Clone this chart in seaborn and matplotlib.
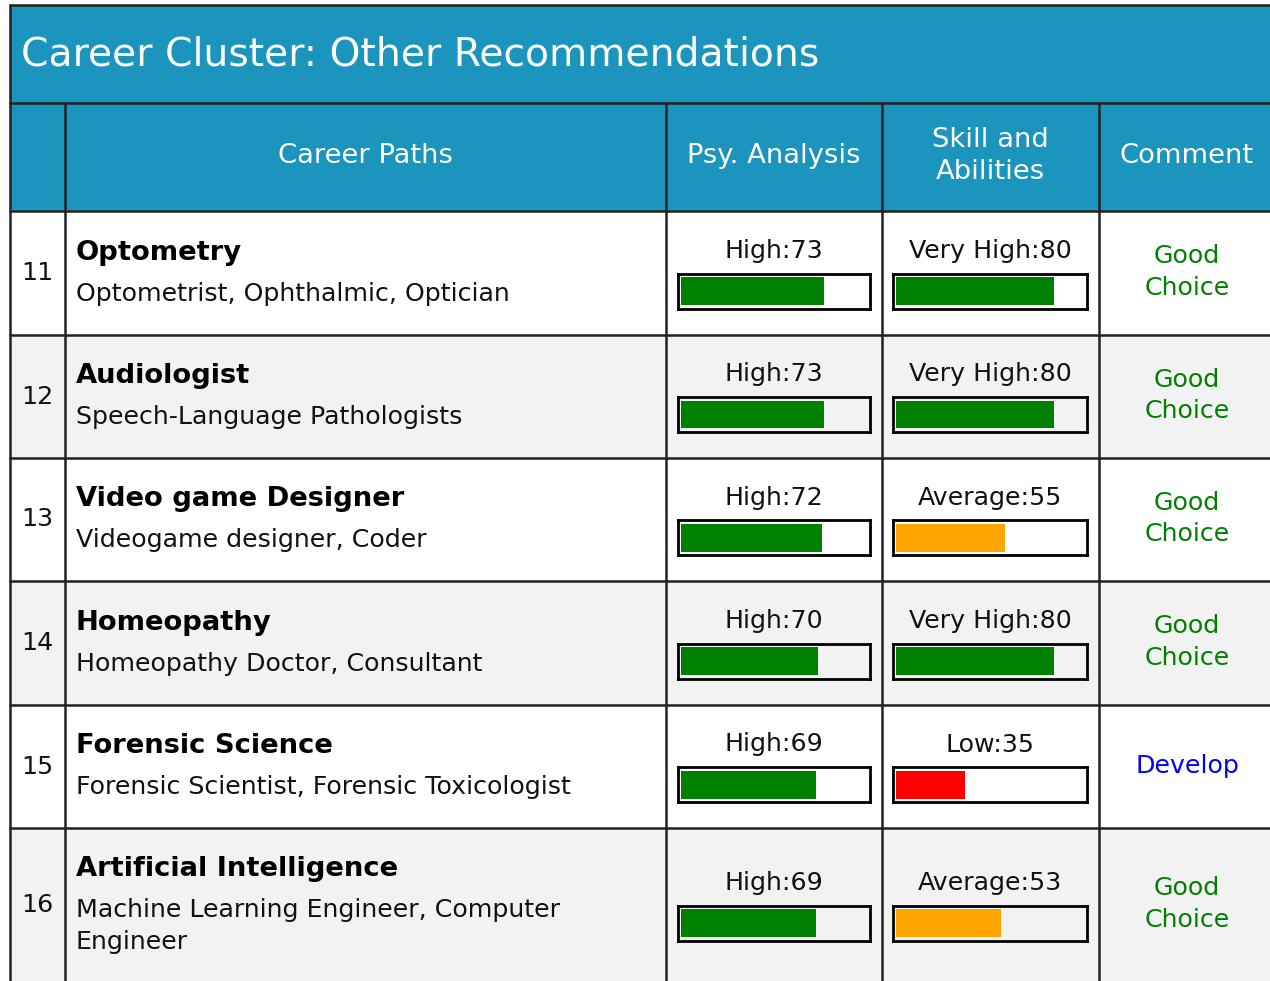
import pandas as pd
import seaborn as sns
import matplotlib.pyplot as plt
from matplotlib.patches import Rectangle

# data
row_nums = [11, 12, 13, 14, 15, 16]
careers = ['Optometry', 'Audiologist', 'Video game Designer', 'Homeopathy',
           'Forensic Science', 'Artificial Intelligence']
paths = ['Optometrist, Ophthalmic, Optician',
         'Speech-Language Pathologists',
         'Videogame designer, Coder',
         'Homeopathy Doctor, Consultant',
         'Forensic Scientist, Forensic Toxicologist',
         'Machine Learning Engineer, Computer\nEngineer']
psy_level = ['High', 'High', 'High', 'High', 'High', 'High']
psy_score = [73, 73, 72, 70, 69, 69]
skill_level = ['Very High', 'Very High', 'Average', 'Very High', 'Low', 'Average']
skill_score = [80, 80, 55, 80, 35, 53]
comments = ['Good\nChoice', 'Good\nChoice', 'Good\nChoice', 'Good\nChoice',
            'Develop', 'Good\nChoice']

# styling
level_colors = {'Very High': '#008000', 'High': '#008000',
                'Average': '#ffa500', 'Low': '#ff0000'}
comment_colors = {'Good\nChoice': '#008000', 'Develop': '#0000ff'}
HEAD = '#1b95bd'
LINE = '#222222'
W, H = 1270, 981

sns.set_style('white')
plt.rcParams['font.family'] = ['DejaVu Sans']

fig = plt.figure(figsize=(W / 100, H / 100), dpi=100)
ax = fig.add_axes([0, 0, 1, 1])
ax.set_xlim(0, W)
ax.set_ylim(H, 0)
ax.axis('off')

# column edges, text centres and row layout (pixels)
col_x = [10, 65, 666, 882, 1099, W]
col_cx = [37, 365, 774, 990, 1187]
row_h = [124, 123, 123, 124, 123, 154]
row_top = [211]
for h in row_h[:-1]:
    row_top.append(row_top[-1] + h)

# title and header bands
ax.add_patch(Rectangle((10, 5), W, 98, color=HEAD, zorder=0))
ax.add_patch(Rectangle((10, 103), W, 108, color=HEAD, zorder=0))
ax.text(21, 54, 'Career Cluster: Other Recommendations', color='white',
        fontsize=28.3, va='center', ha='left')

headers = ['', 'Career Paths', 'Psy. Analysis', 'Skill and\nAbilities', 'Comment']
for i, txt in enumerate(headers):
    ax.text(col_cx[i], 156, txt, color='white', fontsize=19.7, ha='center',
            va='center', linespacing=1.32)

for i in range(len(row_nums)):
    top = row_top[i]
    c = top + row_h[i] / 2
    bg = 'white' if i % 2 == 0 else '#f2f2f2'
    ax.add_patch(Rectangle((10, top), W, row_h[i], color=bg, zorder=0))

    ax.text(col_cx[0], c, str(row_nums[i]), fontsize=18.2, ha='center',
            va='center', color='#111111')

    sub_lines = paths[i].split('\n')
    span = 41 + 32 * (len(sub_lines) - 1)
    ty = c - span / 2
    ax.text(76, ty, careers[i], fontsize=19.7, fontweight='bold',
            ha='left', va='center', color='black')
    for k, line in enumerate(sub_lines):
        ax.text(76, ty + 41 + 32 * k, line, fontsize=18.2, ha='left',
                va='center', color='#111111')

    ax.text(col_cx[4], c - 1, comments[i], fontsize=18.2,
            ha='center', va='center', color=comment_colors[comments[i]],
            linespacing=1.38)

    # progress bars
    for bx, bw, lvl, score in [(678, 192, psy_level[i], psy_score[i]),
                               (893, 194, skill_level[i], skill_score[i])]:
        ax.text(bx + bw / 2, c - 22, f'{lvl}:{score}', fontsize=18.2,
                ha='center', va='center', color='#111111')
        by, bh = c + 0.5, 35
        bax = fig.add_axes([bx / W, 1 - (by + bh) / H, bw / W, bh / H])
        df = pd.DataFrame({'score': [score], 'row': [0]})
        sns.barplot(data=df, x='score', y='row', orient='h',
                    color=level_colors[lvl], saturation=1, width=0.8,
                    linewidth=0, ax=bax)
        bax.set_xlim(-1.4, 96.5)
        bax.set_ylim(0.5, -0.5)
        bax.set_facecolor('none')
        bax.set_xticks([])
        bax.set_yticks([])
        bax.set_xlabel('')
        bax.set_ylabel('')
        for sp in bax.spines.values():
            sp.set_visible(True)
            sp.set_color('black')
            sp.set_linewidth(2)

# grid lines
for y in [5, 103, 211] + row_top[1:]:
    ax.plot([10, W], [y, y], color=LINE, lw=1.8, zorder=2)
ax.plot([10, 10], [5, H], color=LINE, lw=1.8, zorder=2)
for x in col_x[1:-1]:
    ax.plot([x, x], [103, H], color=LINE, lw=1.8, zorder=2)

fig.savefig('out.png', dpi=100)
